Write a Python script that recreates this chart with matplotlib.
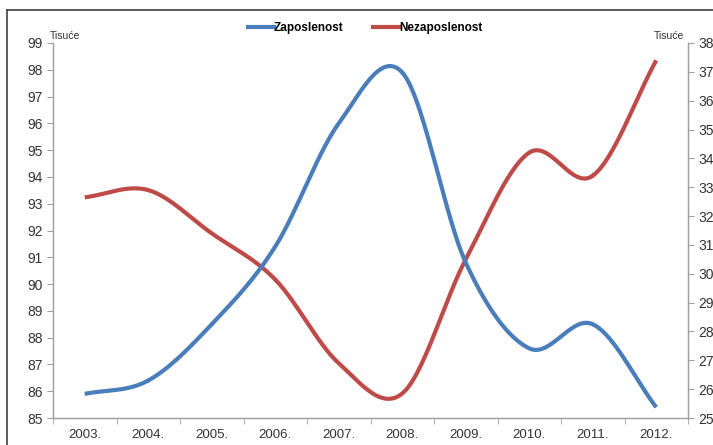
import numpy as np
import matplotlib
matplotlib.use("Agg")
import matplotlib.pyplot as plt
from matplotlib.lines import Line2D

plt.rcParams['font.family'] = ['Liberation Sans', 'DejaVu Sans']

years = ['2003.', '2004.', '2005.', '2006.', '2007.', '2008.', '2009.', '2010.', '2011.', '2012.']
zaposlenost = [85.9, 86.4, 88.5, 91.4, 96.0, 97.9, 90.8, 87.6, 88.5, 85.4]
nezaposlenost = [32.65, 32.9, 31.4, 29.8, 26.9, 25.85, 30.5, 34.2, 33.4, 37.4]

blue = '#4A7EBB'
red = '#BE4B48'


def smooth(x, y, n=30):
    # Catmull-Rom curve through the points, like Excel's smoothed line
    x = np.asarray(x, float)
    y = np.asarray(y, float)
    px = np.concatenate([[2 * x[0] - x[1]], x, [2 * x[-1] - x[-2]]])
    py = np.concatenate([[2 * y[0] - y[1]], y, [2 * y[-1] - y[-2]]])
    xs, ys = [], []
    t = np.linspace(0, 1, n)
    for i in range(1, len(px) - 2):
        for p, out in ((px, xs), (py, ys)):
            p0, p1, p2, p3 = p[i - 1], p[i], p[i + 1], p[i + 2]
            out.append(0.5 * (2 * p1 + (-p0 + p2) * t
                              + (2 * p0 - 5 * p1 + 4 * p2 - p3) * t ** 2
                              + (-p0 + 3 * p1 - 3 * p2 + p3) * t ** 3))
    return np.concatenate(xs), np.concatenate(ys)


fig = plt.figure(figsize=(7.13, 4.45), dpi=100)
W, H = 713, 445
ax = fig.add_axes([53 / W, 1 - 418 / H, (688 - 53) / W, (418 - 43) / H])
ax2 = ax.twinx()

x = np.arange(len(years))
bx, by = smooth(x, zaposlenost)
rx, ry = smooth(x, nezaposlenost)
ax.plot(bx, by, color=blue, lw=3.0, solid_capstyle='butt', zorder=3)
ax2.plot(rx, ry, color=red, lw=3.0, solid_capstyle='butt', zorder=3)

ax.set_xlim(-0.5, len(years) - 0.5)
ax.set_ylim(85, 99)
ax2.set_ylim(25, 38)
ax.set_yticks(range(85, 100))
ax2.set_yticks(range(25, 39))
ax.set_xticks(x)
ax.set_xticklabels(years)
ax.set_xticks(np.arange(-0.5, len(years)), minor=True)
ax.tick_params(axis='x', which='major', length=0, pad=8)
ax.tick_params(axis='x', which='minor', length=4, color='#a0a0a0')

gray = '#a0a0a0'
txt = '#333333'
for a in (ax, ax2):
    a.spines['top'].set_visible(False)
    for s in ('left', 'right', 'bottom'):
        a.spines[s].set_color(gray)
        a.spines[s].set_linewidth(0.9)
    a.tick_params(axis='y', length=4, color=gray, labelsize=10, labelcolor=txt)
ax.tick_params(axis='x', labelsize=9.5, labelcolor=txt)
ax.set_zorder(ax2.get_zorder() + 1)
ax.patch.set_visible(False)

fig.text(50 / W, 1 - 36 / H, 'Tisuće', fontsize=7.5, ha='left', va='center', color=txt)
fig.text(684 / W, 1 - 36 / H, 'Tisuće', fontsize=7.5, ha='right', va='center', color=txt)

handles = [Line2D([], [], color=blue, lw=3), Line2D([], [], color=red, lw=3)]
fig.legend(handles, ['Zaposlenost', 'Nezaposlenost'], loc='center',
           bbox_to_anchor=(365 / W, 1 - 28 / H), ncol=2, frameon=False,
           prop={'weight': 'bold', 'size': 8.5}, handlelength=2.2,
           handletextpad=0.0, columnspacing=2.5)

# outer chart frame
fig.add_artist(Line2D([7 / W, 7 / W], [0, 1 - 10 / H], color='#404040', lw=1.2,
                      transform=fig.transFigure))
fig.add_artist(Line2D([7 / W, 1], [1 - 10 / H, 1 - 10 / H], color='#404040', lw=1.2,
                      transform=fig.transFigure))

fig.savefig('out.png', dpi=100)
